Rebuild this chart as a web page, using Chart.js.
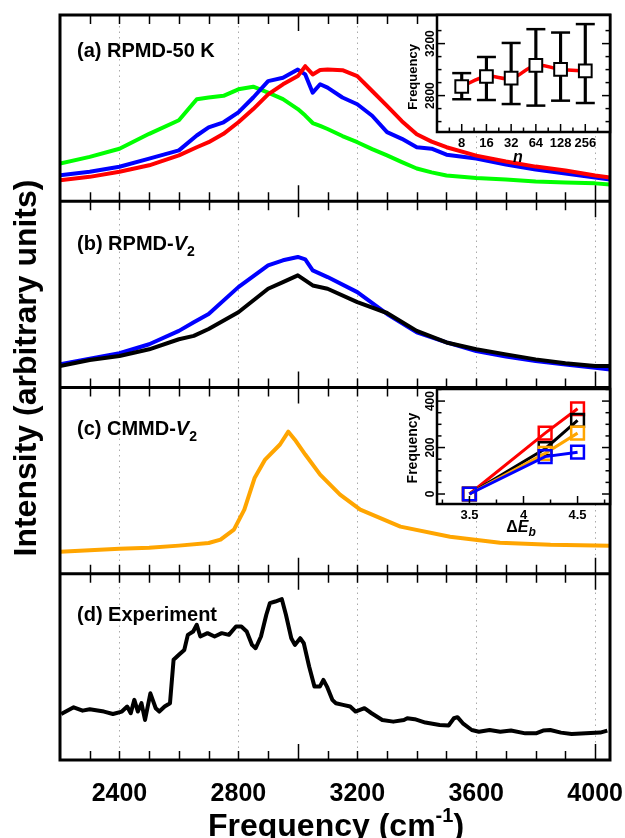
<!DOCTYPE html>
<html>
<head>
<meta charset="utf-8">
<script src="https://cdn.jsdelivr.net/npm/chart.js@4.4.0/dist/chart.umd.min.js"></script>
<style>
  html, body { margin: 0; padding: 0; background: #fff; }
  #wrap { position: relative; width: 625px; height: 838px; overflow: hidden; }
  canvas { position: absolute; }
</style>
</head>
<body>
<div id="wrap">
  <canvas id="main" width="625" height="838" style="left:0;top:0"></canvas>
  <canvas id="inset1" width="230" height="175" style="left:395px;top:0"></canvas>
  <canvas id="inset2" width="230" height="175" style="left:395px;top:375px"></canvas>
</div>
<script>
document.addEventListener("DOMContentLoaded", function() {

var FONT = '"Liberation Sans", Arial, Helvetica, sans-serif';

// values are in percent of the panel height (0 = panel bottom, 100 = panel top)

// (a) RPMD-50 K
var freqA = [2200, 2300, 2400, 2500, 2600, 2660, 2700, 2750, 2800, 2850, 2900, 2950, 3000, 3025, 3050, 3075, 3100, 3150, 3200, 3250, 3300, 3350, 3400, 3450, 3500, 3600, 3700, 3800, 3900, 4000, 4050];
var greenA = [20.2, 23.8, 28.2, 36.2, 43.5, 54.8, 55.7, 56.6, 60.1, 61.5, 58.3, 54.8, 49.5, 46, 42, 40.5, 38.8, 35, 31.7, 28, 24.6, 21, 17.6, 15.5, 13.8, 12.5, 11.7, 10.6, 10.1, 9.6, 9.0];
var blueA = [14.0, 15.8, 18.5, 22.9, 27.3, 35.3, 39.7, 42.4, 47.7, 55.7, 64.5, 66.3, 70.7, 68.1, 58.3, 62.8, 61.0, 55.7, 52.1, 45.9, 37.1, 33.5, 29, 28.2, 25, 22.9, 19.7, 17, 14.9, 12.8, 11.7];
var redA = [11.3, 13.1, 15.8, 19.3, 24.6, 29, 31.7, 36.2, 42.4, 49.5, 57.4, 62.8, 67.2, 72.5, 68.1, 70.5, 70.7, 70.4, 67.2, 59.2, 51.2, 43, 36, 32, 29, 24.5, 21.3, 18.6, 16.5, 13.8, 12.8];

// (b) RPMD-V2
var freqB = [2200, 2300, 2400, 2500, 2600, 2650, 2700, 2800, 2900, 2950, 3000, 3025, 3050, 3100, 3200, 3300, 3400, 3500, 3600, 3700, 3800, 3900, 4000, 4050];
var blueB = [12.5, 15.5, 18.4, 23.2, 30.4, 35.0, 39.5, 53.9, 65.6, 68.3, 70.1, 68.8, 62.9, 59.3, 51.2, 39.5, 29.6, 24.2, 19.6, 16.6, 14.2, 12.4, 10.6, 9.7];
var blackB = [11.5, 14.8, 16.9, 20.5, 25.9, 27.7, 31.4, 40.4, 53.0, 56.6, 60.2, 57.5, 54.8, 53.0, 45.8, 40.0, 30.4, 24.2, 20.5, 17.8, 15.1, 13.0, 11.5, 11.5];

// (c) CMMD-V2
var freqC = [2200, 2300, 2400, 2500, 2600, 2700, 2740, 2785, 2820, 2855, 2890, 2940, 2968, 2990, 3025, 3075, 3142, 3210, 3345, 3512, 3680, 3850, 4050];
var orangeC = [11.8, 12.6, 13.4, 14, 15.1, 16.5, 18.3, 23.7, 34.4, 51.6, 61.3, 69.4, 76.3, 72, 64, 53.2, 42.5, 34.4, 25.3, 19.9, 16.7, 15.6, 15.1];

// (d) Experiment
var freqD = [2204, 2246, 2276, 2300, 2348, 2378, 2408, 2426, 2438, 2450, 2462, 2474, 2486, 2504, 2522, 2534, 2552, 2570, 2582, 2600, 2618, 2630, 2648, 2660, 2672, 2696, 2720, 2744, 2768, 2792, 2810, 2828, 2846, 2858, 2876, 2894, 2906, 2924, 2946, 2960, 2978, 2990, 3008, 3020, 3038, 3056, 3074, 3086, 3098, 3116, 3128, 3152, 3176, 3194, 3224, 3248, 3284, 3321, 3357, 3368, 3393, 3429, 3477, 3507, 3525, 3537, 3555, 3585, 3609, 3645, 3681, 3717, 3765, 3801, 3825, 3849, 3885, 3921, 3969, 4017, 4041];
var expD = [24.7, 28.3, 26.5, 27.2, 26.0, 24.7, 26.0, 28.7, 25.1, 32.3, 26.0, 30.5, 21.5, 35.8, 27.8, 26.0, 28.7, 30.5, 53.8, 56.5, 59.1, 67.2, 69.0, 72.6, 66.3, 68.1, 66.3, 68.1, 67.2, 71.7, 71.7, 69.0, 61.8, 60.0, 66.3, 78.0, 84.2, 85.1, 86.4, 78.0, 65.4, 61.8, 65.4, 62.7, 50.2, 39.4, 39.4, 43.0, 39.4, 32.3, 30.5, 29.6, 28.7, 26.0, 27.8, 25.1, 21.5, 20.6, 21.5, 22.4, 21.9, 20.1, 18.8, 18.5, 22.4, 23.0, 19.7, 16.1, 15.2, 16.1, 15.2, 15.8, 14.3, 14.3, 15.8, 16.1, 14.7, 14.0, 14.3, 14.7, 15.8];

// inset of (a): peak frequency vs number of beads
var beadN = [8, 16, 32, 64, 128, 256];
var beadFreq = [2870, 2947, 2934, 3032, 3001, 2991];
var beadLow = [2772, 2766, 2735, 2723, 2761, 2743];
var beadHigh = [2973, 3097, 3205, 3311, 3285, 3350];

// inset of (c): frequency shift vs barrier height
var deltaE = [3.5, 4.2, 4.5];
var shiftRed = [0, 262, 367];
var shiftBlack = [0, 195, 317];
var shiftOrange = [0, 175, 262];
var shiftBlue = [0, 161, 180];

// tick labels
var freqTicks = [2400, 2800, 3200, 3600, 4000];
var insetFreqTicks = [2800, 3200];
var insetShiftTicks = [0, 200, 400];
var deltaTicks = [3.5, 4, 4.5];

var panelOffset = { a: 300, b: 200, c: 100, d: 0 };

function series(xs, ys, offset, color, order) {
    return {
        type: 'line',
        data: xs.map(function(x, i) { return { x: x, y: ys[i] + offset }; }),
        borderColor: color,
        borderWidth: 4,
        borderJoinStyle: 'round',
        pointRadius: 0,
        tension: 0,
        fill: false,
        order: order
    };
}

// draw text made of parts [text, font, dy]
function drawRich(ctx, parts, x, y, align) {
    var w = 0;
    parts.forEach(function(p) { ctx.font = p[1]; w += ctx.measureText(p[0]).width; });
    var cx = align === 'center' ? x - w / 2 : x;
    ctx.textAlign = 'left';
    parts.forEach(function(p) {
        ctx.font = p[1];
        ctx.fillText(p[0], cx, y + (p[2] || 0));
        cx += ctx.measureText(p[0]).width;
    });
}

function rotatedText(ctx, text, font, x, y) {
    ctx.save();
    ctx.translate(x, y);
    ctx.rotate(-Math.PI / 2);
    ctx.font = font;
    ctx.textAlign = 'center';
    ctx.textBaseline = 'alphabetic';
    ctx.fillText(text, 0, 0);
    ctx.restore();
}

function line(ctx, x1, y1, x2, y2) {
    ctx.beginPath(); ctx.moveTo(x1, y1); ctx.lineTo(x2, y2); ctx.stroke();
}

var mainDecor = {
    id: 'mainDecor',
    beforeDatasetsDraw: function(chart) {
        var ctx = chart.ctx, a = chart.chartArea, sx = chart.scales.x;
        ctx.save();
        ctx.strokeStyle = '#aaaaaa';
        ctx.lineWidth = 1;
        ctx.setLineDash([1.5, 4]);
        freqTicks.forEach(function(v) {
            var x = Math.round(sx.getPixelForValue(v)) + 0.5;
            line(ctx, x, a.top, x, a.bottom);
        });
        ctx.restore();
    },
    afterDatasetsDraw: function(chart) {
        var ctx = chart.ctx, a = chart.chartArea, sx = chart.scales.x, sy = chart.scales.y;
        ctx.save();
        ctx.strokeStyle = '#000';
        ctx.fillStyle = '#000';
        // inward ticks at top and bottom of every panel
        ctx.lineWidth = 1.5;
        [0, 100, 200, 300].forEach(function(base) {
            var bottom = sy.getPixelForValue(base), top = sy.getPixelForValue(base + 100);
            for (var v = 2300; v <= 4000; v += 100) {
                var x = Math.round(sx.getPixelForValue(v)) + 0.5;
                var len = v % 1000 === 0 ? 16 : 9;
                line(ctx, x, top, x, top + len);
                line(ctx, x, bottom, x, bottom - len);
            }
        });
        // frame and dividers
        ctx.lineWidth = 3;
        ctx.strokeRect(a.left, a.top, a.width, a.height);
        [100, 200, 300].forEach(function(v) {
            var y = sy.getPixelForValue(v);
            line(ctx, a.left, y, a.right, y);
        });
        // panel labels
        var B = 'bold 20px ' + FONT, BI = 'italic bold 20px ' + FONT, S = 'bold 14px ' + FONT;
        ctx.textBaseline = 'alphabetic';
        drawRich(ctx, [['(a) RPMD-50 K', B]], 77, 57);
        drawRich(ctx, [['(b) RPMD-', B], ['V', BI], ['2', S, 6]], 77, 250);
        drawRich(ctx, [['(c) CMMD-', B], ['V', BI], ['2', S, 6]], 77, 435);
        drawRich(ctx, [['(d) Experiment', B]], 77, 621);
        // x tick labels
        ctx.font = 'bold 25px ' + FONT;
        ctx.textAlign = 'center';
        freqTicks.forEach(function(v) {
            ctx.fillText(String(v), sx.getPixelForValue(v), 801);
        });
        // axis titles
        drawRich(ctx, [['Frequency (cm', 'bold 32px ' + FONT], ['-1', 'bold 20px ' + FONT, -14], [')', 'bold 32px ' + FONT]], 336, 836, 'center');
        rotatedText(ctx, 'Intensity (arbitrary units)', 'bold 32px ' + FONT, 36, 368);
        ctx.restore();
    }
};

new Chart(document.getElementById('main').getContext('2d'), {
    type: 'line',
    data: {
        datasets: [
            series(freqA, redA, panelOffset.a, '#ff0000', 0),
            series(freqA, blueA, panelOffset.a, '#0000ff', 1),
            series(freqA, greenA, panelOffset.a, '#00ff00', 2),
            series(freqB, blackB, panelOffset.b, '#000000', 3),
            series(freqB, blueB, panelOffset.b, '#0000ff', 4),
            series(freqC, orangeC, panelOffset.c, '#ffa500', 5),
            series(freqD, expD, panelOffset.d, '#000000', 6)
        ]
    },
    options: {
        responsive: false,
        animation: false,
        events: [],
        layout: { padding: { left: 60, top: 15, right: 15, bottom: 78 } },
        plugins: { legend: { display: false }, tooltip: { enabled: false } },
        scales: {
            x: { type: 'linear', min: 2200, max: 4050, display: false },
            y: { type: 'linear', min: 0, max: 400, display: false }
        }
    },
    plugins: [mainDecor]
});

function insetFrame(chart, xt, yt) {
    var ctx = chart.ctx, a = chart.chartArea, sx = chart.scales.x, sy = chart.scales.y;
    ctx.strokeStyle = '#000';
    ctx.lineWidth = 1.5;
    xt.forEach(function(t) {
        var x = sx.getPixelForValue(t[0]);
        line(ctx, x, a.bottom, x, a.bottom - t[1]);
    });
    yt.forEach(function(t) {
        var y = sy.getPixelForValue(t[0]);
        line(ctx, a.left, y, a.left + t[1], y);
        line(ctx, a.right, y, a.right - t[1], y);
    });
    ctx.lineWidth = 2.5;
    ctx.strokeRect(a.left, a.top, a.width, a.height);
}

var whiteBox = {
    id: 'whiteBox',
    beforeDraw: function(chart) {
        var a = chart.chartArea;
        chart.ctx.save();
        chart.ctx.fillStyle = '#fff';
        chart.ctx.fillRect(a.left, a.top, a.width, a.height);
        chart.ctx.restore();
    }
};

// inset 1 (canvas placed at x = 395, y = 0)
var inset1Decor = {
    id: 'inset1Decor',
    afterDatasetsDraw: function(chart) {
        var ctx = chart.ctx, sx = chart.scales.x, sy = chart.scales.y;
        ctx.save();
        var xt = [], yt = [];
        for (var v = 2.5; v < 9; v += 0.5) xt.push([v, v % 1 === 0 ? 8 : 4.5]);
        for (var f = 2600; f <= 3300; f += 100) yt.push([f, insetFreqTicks.indexOf(f) >= 0 ? 8 : 4.5]);
        insetFrame(chart, xt, yt);
        ctx.fillStyle = '#000';
        ctx.font = 'bold 13px ' + FONT;
        ctx.textAlign = 'center';
        ctx.textBaseline = 'alphabetic';
        beadN.forEach(function(n) {
            ctx.fillText(String(n), sx.getPixelForValue(Math.log2(n)), 146.5);
        });
        insetFreqTicks.forEach(function(f) {
            rotatedText(ctx, String(f), 'bold 12px ' + FONT, 39, sy.getPixelForValue(f));
        });
        rotatedText(ctx, 'Frequency', 'bold 13px ' + FONT, 22, 77);
        ctx.font = 'italic bold 16px ' + FONT;
        ctx.textAlign = 'center';
        ctx.fillText('n', 123, 162);
        ctx.restore();
    }
};

var beadX = beadN.map(function(n) { return Math.log2(n); });

new Chart(document.getElementById('inset1').getContext('2d'), {
    type: 'line',
    data: {
        datasets: [
            {
                type: 'line', order: 0,
                data: beadX.map(function(x, i) { return { x: x, y: beadFreq[i] }; }),
                showLine: false, pointStyle: 'rect', pointRadius: 9,
                pointBorderColor: '#000', pointBackgroundColor: '#fff', pointBorderWidth: 2
            },
            {
                type: 'scatter', order: 1,
                data: beadX.map(function(x, i) { return { x: x, y: beadLow[i] }; })
                    .concat(beadX.map(function(x, i) { return { x: x, y: beadHigh[i] }; })),
                pointStyle: 'line', pointRadius: 9.5, pointBorderColor: '#000', pointBorderWidth: 2.5
            },
            {
                type: 'bar', order: 2,
                data: beadX.map(function(x, i) { return { x: x, y: [beadLow[i], beadHigh[i]] }; }),
                backgroundColor: '#000', barThickness: 2.5, borderWidth: 0
            },
            {
                type: 'line', order: 3,
                data: beadX.map(function(x, i) { return { x: x, y: beadFreq[i] }; }),
                borderColor: '#ff0000', borderWidth: 3.5, tension: 0.4, pointRadius: 0
            }
        ]
    },
    options: {
        responsive: false,
        animation: false,
        events: [],
        layout: { padding: { left: 42, top: 15, right: 15, bottom: 43 } },
        plugins: { legend: { display: false }, tooltip: { enabled: false } },
        scales: {
            x: { type: 'linear', min: 2, max: 9, display: false, offset: false },
            y: { type: 'linear', min: 2520, max: 3420, display: false }
        }
    },
    plugins: [whiteBox, inset1Decor]
});

// inset 2 (canvas placed at x = 395, y = 375)
var inset2Decor = {
    id: 'inset2Decor',
    afterDatasetsDraw: function(chart) {
        var ctx = chart.ctx, sx = chart.scales.x, sy = chart.scales.y;
        ctx.save();
        var xt = [], yt = [];
        for (var v = 3.25; v < 4.8; v += 0.25) xt.push([v, deltaTicks.indexOf(v) >= 0 ? 8 : 4.5]);
        for (var f = 0; f <= 450; f += 50) yt.push([f, insetShiftTicks.indexOf(f) >= 0 ? 8 : 4.5]);
        insetFrame(chart, xt, yt);
        ctx.fillStyle = '#000';
        ctx.font = 'bold 13px ' + FONT;
        ctx.textAlign = 'center';
        ctx.textBaseline = 'alphabetic';
        deltaTicks.forEach(function(v) {
            ctx.fillText(String(v), sx.getPixelForValue(v), 143.5);
        });
        insetShiftTicks.forEach(function(f) {
            rotatedText(ctx, String(f), 'bold 12px ' + FONT, 39, sy.getPixelForValue(f));
        });
        rotatedText(ctx, 'Frequency', 'bold 14px ' + FONT, 22, 73);
        drawRich(ctx, [['\u0394', 'bold 16px ' + FONT], ['E', 'italic bold 16px ' + FONT], ['b', 'italic bold 12px ' + FONT, 4]], 126, 157, 'center');
        ctx.restore();
    }
};

function shiftSeries(ys, color, order) {
    return {
        type: 'line', order: order,
        data: deltaE.map(function(x, i) { return { x: x, y: ys[i] }; }),
        borderColor: color, borderWidth: 3, tension: 0,
        pointStyle: 'rect', pointRadius: 9, pointBorderWidth: 2.5,
        pointBorderColor: color, pointBackgroundColor: 'rgba(0,0,0,0)'
    };
}

new Chart(document.getElementById('inset2').getContext('2d'), {
    type: 'line',
    data: {
        datasets: [
            shiftSeries(shiftBlue, '#0000ff', 0),
            shiftSeries(shiftOrange, '#ffa500', 1),
            shiftSeries(shiftBlack, '#000000', 2),
            shiftSeries(shiftRed, '#ff0000', 3)
        ]
    },
    options: {
        responsive: false,
        animation: false,
        events: [],
        layout: { padding: { left: 42, top: 14, right: 15, bottom: 46 } },
        plugins: { legend: { display: false }, tooltip: { enabled: false } },
        scales: {
            x: { type: 'linear', min: 3.2, max: 4.8, display: false },
            y: { type: 'linear', min: -43, max: 452, display: false }
        }
    },
    plugins: [whiteBox, inset2Decor]
});

});
</script>
</body>
</html>
